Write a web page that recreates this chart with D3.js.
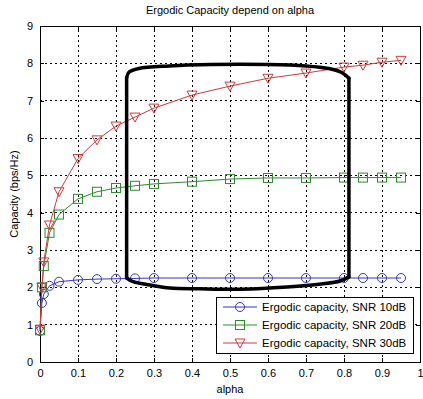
<!DOCTYPE html>
<html>
<head>
<meta charset="utf-8">
<script src="https://cdn.jsdelivr.net/npm/d3@7"></script>
<style>
  html, body { margin: 0; padding: 0; background: #fff; }
  svg { display: block; font-family: Arial, "Liberation Sans", sans-serif; }
</style>
</head>
<body>
<script>
// alpha values sampled
const alpha = [0, 0.005, 0.01, 0.025, 0.05, 0.1, 0.15, 0.2, 0.25, 0.3, 0.4, 0.5, 0.6, 0.7, 0.8, 0.85, 0.9, 0.95];

const snr10 = [0.83, 1.58, 1.82, 2.04, 2.15, 2.2, 2.22, 2.23, 2.24, 2.25, 2.25, 2.25, 2.25, 2.25, 2.25, 2.25, 2.25, 2.25];
const snr20 = [0.85, 2.0, 2.57, 3.46, 3.95, 4.37, 4.56, 4.66, 4.72, 4.77, 4.83, 4.9, 4.93, 4.93, 4.94, 4.94, 4.94, 4.94];
const snr30 = [0.88, 2.0, 2.68, 3.67, 4.56, 5.45, 5.95, 6.32, 6.56, 6.8, 7.15, 7.39, 7.6, 7.74, 7.9, 7.95, 8.03, 8.08];

const seriesNames = ['Ergodic capacity, SNR 10dB', 'Ergodic capacity, SNR 20dB', 'Ergodic capacity, SNR 30dB'];
const seriesColors = ['#3535c8', '#2e8b2e', '#d03a3a'];
const seriesMarkers = ['circle', 'square', 'triangle'];

const xTicks = [0, 0.1, 0.2, 0.3, 0.4, 0.5, 0.6, 0.7, 0.8, 0.9, 1];
const yTicks = [0, 1, 2, 3, 4, 5, 6, 7, 8, 9];

// hand-drawn highlight box, one stroke per edge, in data units (alpha, capacity)
const boxTop = [[0.228, 7.62], [0.234, 7.76], [0.26, 7.86], [0.34, 7.93], [0.45, 7.97], [0.6, 7.97], [0.7, 7.93], [0.76, 7.86], [0.795, 7.75], [0.813, 7.6]];
const boxRight = [[0.813, 7.6], [0.813, 2.28]];
const boxBottom = [[0.813, 2.28], [0.79, 2.17], [0.74, 2.09], [0.65, 2.01], [0.53, 1.95], [0.42, 1.96], [0.342, 1.98], [0.29, 2.06], [0.245, 2.15], [0.228, 2.25]];
const boxLeft = [[0.228, 2.25], [0.228, 7.62]];

const width = 423;
const height = 399;
const margin = { top: 26, right: 3, bottom: 37, left: 40 };

const x = d3.scaleLinear().domain([0, 1]).range([margin.left, width - margin.right]);
const y = d3.scaleLinear().domain([0, 9]).range([height - margin.bottom, margin.top]);

const svg = d3.select('body').append('svg')
  .attr('width', width)
  .attr('height', height)
  .attr('viewBox', [0, 0, width, height])
  .style('font-size', '11px');

// grid
svg.append('g')
  .selectAll('line')
  .data(xTicks.slice(1, -1))
  .join('line')
  .attr('x1', (d) => x(d)).attr('x2', (d) => x(d))
  .attr('y1', y(0)).attr('y2', y(9))
  .attr('stroke', '#000').attr('stroke-width', 1)
  .attr('stroke-dasharray', '2,3')
  .attr('shape-rendering', 'crispEdges');

svg.append('g')
  .selectAll('line')
  .data(yTicks.slice(1, -1))
  .join('line')
  .attr('x1', x(0)).attr('x2', x(1))
  .attr('y1', (d) => y(d)).attr('y2', (d) => y(d))
  .attr('stroke', '#000').attr('stroke-width', 1)
  .attr('stroke-dasharray', '2,3')
  .attr('shape-rendering', 'crispEdges');

// axes (ticks inside, MATLAB style)
svg.append('g')
  .attr('transform', `translate(0,${y(0)})`)
  .call(d3.axisBottom(x).tickValues(xTicks).tickSize(-4).tickPadding(7).tickFormat(d3.format('')))
  .call((g) => g.select('.domain').remove());

svg.append('g')
  .attr('transform', `translate(0,${y(9)})`)
  .call(d3.axisTop(x).tickValues(xTicks).tickSize(-4).tickFormat(''))
  .call((g) => g.select('.domain').remove());

svg.append('g')
  .attr('transform', `translate(${x(0)},0)`)
  .call(d3.axisLeft(y).tickValues(yTicks).tickSize(-4).tickPadding(7).tickFormat(d3.format('d')))
  .call((g) => g.select('.domain').remove());

svg.append('g')
  .attr('transform', `translate(${x(1)},0)`)
  .call(d3.axisRight(y).tickValues(yTicks).tickSize(-4).tickFormat(''))
  .call((g) => g.select('.domain').remove());

svg.selectAll('.tick text').attr('font-size', 11).attr('font-family', 'Arial, "Liberation Sans", sans-serif').attr('fill', '#000');
svg.selectAll('.tick line').attr('shape-rendering', 'crispEdges');

svg.append('rect')
  .attr('x', x(0)).attr('y', y(9))
  .attr('width', x(1) - x(0)).attr('height', y(0) - y(9))
  .attr('fill', 'none').attr('stroke', '#000')
  .attr('shape-rendering', 'crispEdges');

// series
const seriesData = [snr10, snr20, snr30];
const line = d3.line().x((d) => x(d[0])).y((d) => y(d[1]));

const drawMarker = (sel, kind, color) => {
  if (kind === 'circle') {
    sel.append('circle').attr('r', 4.5);
  } else if (kind === 'square') {
    sel.append('rect').attr('x', -4.5).attr('y', -4.5).attr('width', 9).attr('height', 9);
  } else {
    sel.append('path').attr('d', 'M-5,-4L5,-4L0,5Z');
  }
  sel.selectAll('*').attr('fill', 'none').attr('stroke', color).attr('stroke-width', 1);
};

seriesData.forEach((vals, i) => {
  const pts = alpha.map((a, j) => [a, vals[j]]);
  const g = svg.append('g');
  g.append('path')
    .attr('d', line(pts))
    .attr('fill', 'none')
    .attr('stroke', seriesColors[i])
    .attr('stroke-width', 1);
  g.selectAll('g')
    .data(pts)
    .join('g')
    .attr('transform', (d) => `translate(${x(d[0])},${y(d[1])})`)
    .each(function () { drawMarker(d3.select(this), seriesMarkers[i], seriesColors[i]); });
});

// highlight box
const smooth = d3.line().x((d) => x(d[0])).y((d) => y(d[1])).curve(d3.curveCatmullRom.alpha(0.5));
svg.append('g')
  .selectAll('path')
  .data([boxTop, boxRight, boxBottom, boxLeft])
  .join('path')
  .attr('d', smooth)
  .attr('fill', 'none')
  .attr('stroke', '#000')
  .attr('stroke-width', 3.5)
  .attr('stroke-linecap', 'round')
  .attr('stroke-linejoin', 'round');

// legend
const legX = 216;
const legY = 297;
const legW = 197;
const legH = 56;
const rowH = 18;

const legend = svg.append('g');
legend.append('rect')
  .attr('x', legX).attr('y', legY)
  .attr('width', legW).attr('height', legH)
  .attr('fill', '#fff').attr('stroke', '#000')
  .attr('shape-rendering', 'crispEdges');

seriesNames.forEach((name, i) => {
  const cy = legY + 10 + i * rowH;
  legend.append('line')
    .attr('x1', legX + 7).attr('x2', legX + 41)
    .attr('y1', cy).attr('y2', cy)
    .attr('stroke', seriesColors[i]);
  const m = legend.append('g').attr('transform', `translate(${legX + 24},${cy})`);
  drawMarker(m, seriesMarkers[i], seriesColors[i]);
  legend.append('text')
    .attr('x', legX + 46).attr('y', cy)
    .attr('dy', '0.35em')
    .attr('fill', '#000')
    .attr('font-size', 11.5)
    .text(name);
});

// labels
svg.append('text')
  .attr('x', (x(0) + x(1)) / 2).attr('y', 14)
  .attr('text-anchor', 'middle').attr('fill', '#000')
  .text('Ergodic Capacity depend on alpha');

svg.append('text')
  .attr('x', (x(0) + x(1)) / 2).attr('y', 393)
  .attr('text-anchor', 'middle').attr('fill', '#000')
  .text('alpha');

svg.append('text')
  .attr('transform', `translate(18,${(y(0) + y(9)) / 2}) rotate(-90)`)
  .attr('text-anchor', 'middle').attr('fill', '#000')
  .text('Capacity (bps/Hz)');
</script>
</body>
</html>
